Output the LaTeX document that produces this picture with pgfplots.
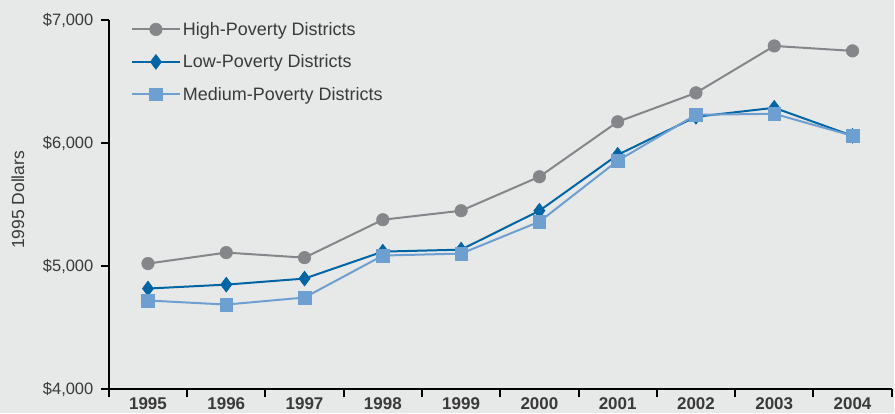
\documentclass[border=0pt]{standalone}
\usepackage{fontspec}
\setmainfont{Liberation Sans}
\usepackage{pgfplots}
\pgfplotsset{compat=1.18}
\usetikzlibrary{backgrounds}

\definecolor{bg}{HTML}{E7E8E8}
\definecolor{highc}{HTML}{85868A}
\definecolor{lowc}{HTML}{0065A4}
\definecolor{medc}{HTML}{6E9FD1}
\definecolor{txt}{HTML}{3A3A3A}

\begin{document}
\begin{tikzpicture}
\begin{axis}[
    scale only axis,
    width=784pt, height=370pt,
    xmin=-0.5, xmax=9.5,
    ymin=4000, ymax=7000,
    axis x line*=bottom, axis y line*=left,
    axis line style={line width=2pt, black},
    xtick={0,...,9},
    xticklabels={1995,1996,1997,1998,1999,2000,2001,2002,2003,2004},
    x tick label style={font=\fontsize{17}{20}\selectfont\bfseries, text=txt, yshift=3pt},
    xtick style={draw=none},
    extra x ticks={-0.5,0.5,1.5,2.5,3.5,4.5,5.5,6.5,7.5,8.5,9.5},
    extra x tick labels={},
    extra x tick style={xtick style={draw=black, line width=2pt}, major tick length=8pt, tick align=outside},
    ytick={4000,5000,6000,7000},
    yticklabels={{\$4,000},{\$5,000},{\$6,000},{\$7,000}},
    y tick label style={font=\fontsize{16.5}{19}\selectfont, text=txt, xshift=-4pt},
    ytick style={line width=2pt, black},
    tick align=outside, major tick length=8pt,
    ylabel={1995 Dollars},
    ylabel style={font=\fontsize{17.5}{20}\selectfont, text=txt, at={(axis description cs:-0.1161,0.513)}, anchor=center},
    legend style={at={(axis description cs:0.028,1.0)}, anchor=north west, draw=none, fill=none,
        font=\fontsize{18}{21}\selectfont, text=txt, row sep=14pt, inner sep=0pt},
    legend cell align=left,
    legend image code/.code={\draw[mark repeat=2, mark phase=2] plot coordinates {(0pt,0pt)(24pt,0pt)(48pt,0pt)};},
    every axis plot/.append style={line width=2pt},
]
\addplot[color=highc, mark=*, mark size=6.3pt, mark options={line width=0.5pt}] coordinates {
    (0,5022) (1,5111) (2,5070) (3,5378) (4,5451) (5,5727) (6,6173) (7,6408) (8,6789) (9,6749)
};
\addlegendentry{High-Poverty Districts}
\addplot[color=lowc, mark=diamond*, mark size=7.5pt, mark options={line width=0.5pt}] coordinates {
    (0,4819) (1,4851) (2,4900) (3,5119) (4,5135) (5,5451) (6,5905) (7,6214) (8,6287) (9,6059)
};
\addlegendentry{Low-Poverty Districts}
\addplot[color=medc, mark=square*, mark size=6.3pt, mark options={line width=0.5pt}] coordinates {
    (0,4722) (1,4689) (2,4746) (3,5087) (4,5103) (5,5362) (6,5857) (7,6230) (8,6238) (9,6059)
};
\addlegendentry{Medium-Poverty Districts}
\end{axis}
\begin{scope}[on background layer]
\fill[bg] (-109pt,-24pt) rectangle (786pt,390pt);
\end{scope}
\useasboundingbox (-109pt,-24pt) rectangle (786pt,390pt);
\end{tikzpicture}
\end{document}
